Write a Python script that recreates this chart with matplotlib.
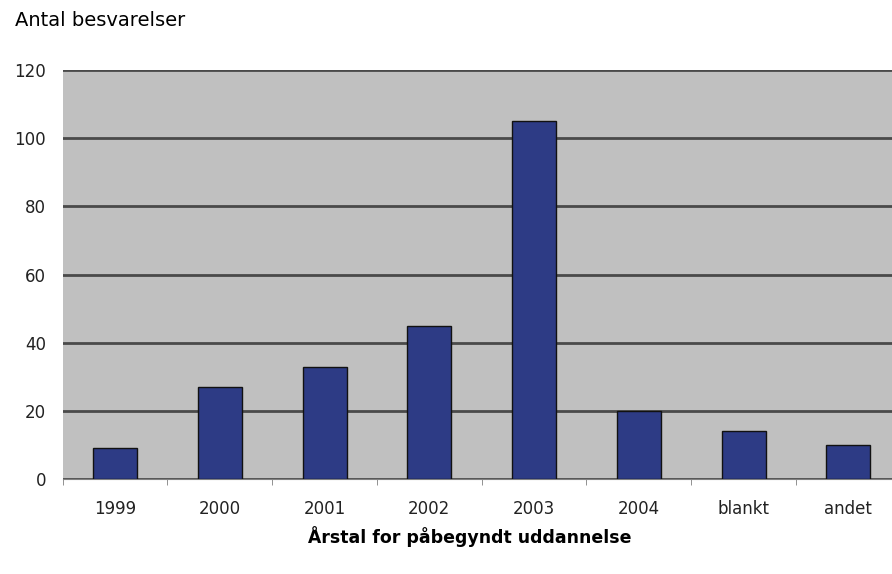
import numpy as np
import matplotlib.pyplot as plt

kategorier = ['1999', '2000', '2001', '2002', '2003', '2004', 'blankt', 'andet']
antal = [9, 27, 33, 45, 105, 20, 14, 10]
yticks = [0, 20, 40, 60, 80, 100, 120]

fig = plt.figure(figsize=(8.92, 5.74), dpi=100)
# plot area runs a little past the right edge of the picture, as in the original
ax = fig.add_axes([0.0702, 0.1655, 0.9395, 0.7125])
ax.set_facecolor('#c0c0c0')

x = np.arange(len(kategorier))
ax.bar(x, antal, width=0.42, color='#2d3b85', edgecolor='#111111', linewidth=1, zorder=3)

ax.set_ylim(0, 120)
ax.set_xlim(-0.5, len(kategorier) - 0.5)
ax.set_yticks(yticks)
ax.set_yticklabels([str(v) for v in yticks], fontsize=12, color='#222222')
ax.yaxis.grid(True, color='#4a4a4a', linewidth=2, zorder=1)
ax.tick_params(axis='y', length=0, pad=12)

ax.set_xticks(x)
ax.set_xticklabels(kategorier, fontsize=12, color='#222222')
ax.set_xticks(np.arange(len(kategorier) + 1) - 0.5, minor=True)
ax.tick_params(axis='x', which='major', length=0, pad=15)
ax.tick_params(axis='x', which='minor', length=4, color='#808080')

for s in ['top', 'right', 'left']:
    ax.spines[s].set_visible(False)
ax.spines['bottom'].set_color('#808080')

fig.text(0.017, 0.965, 'Antal besvarelser', fontsize=14, ha='left', va='center')
fig.text(0.527, 0.066, 'Årstal for påbegyndt uddannelse', fontsize=12.5,
         fontweight='bold', ha='center', va='center')

fig.savefig('out.png', dpi=100)
